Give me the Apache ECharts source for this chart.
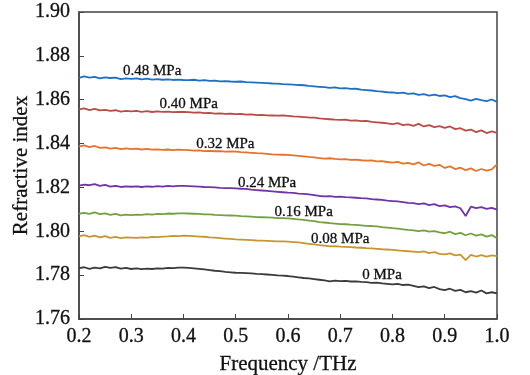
<!DOCTYPE html>
<html>
<head>
<meta charset="utf-8">
<script src="https://cdn.jsdelivr.net/npm/echarts@6/dist/echarts.min.js"></script>
<style>
  html, body { margin: 0; padding: 0; background: #fff; }
  #chart { width: 530px; height: 375px; }
</style>
</head>
<body>
<div id="chart"></div>
<script>
// frequency grid, 0.20 .. 1.00 THz in 0.01 steps
const freq = [];
for (let i = 0; i <= 80; i++) freq.push(+(0.2 + i * 0.01).toFixed(2));

const pressures = ['0.48 MPa', '0.40 MPa', '0.32 MPa', '0.24 MPa', '0.16 MPa', '0.08 MPa', '0 MPa'];

const n048 = [
  1.8700, 1.8706, 1.8701, 1.8704, 1.8697, 1.8702, 1.8699, 1.8701, 1.8694, 1.8697,
  1.8695, 1.8697, 1.8693, 1.8696, 1.8692, 1.8694, 1.8691, 1.8693, 1.8690, 1.8692,
  1.8690, 1.8689, 1.8691, 1.8687, 1.8689, 1.8686, 1.8687, 1.8684, 1.8685, 1.8683,
  1.8682, 1.8683, 1.8680, 1.8679, 1.8678, 1.8677, 1.8676, 1.8674, 1.8673, 1.8671,
  1.8670, 1.8669, 1.8667, 1.8666, 1.8663, 1.8661, 1.8659, 1.8657, 1.8654, 1.8656,
  1.8652, 1.8653, 1.8649, 1.8650, 1.8646, 1.8644, 1.8642, 1.8639, 1.8637, 1.8634,
  1.8633, 1.8630, 1.8632, 1.8627, 1.8629, 1.8622, 1.8626, 1.8619, 1.8623, 1.8617,
  1.8620, 1.8612, 1.8616, 1.8607, 1.8603, 1.8596, 1.8604, 1.8598, 1.8594, 1.8601,
  1.8590
];
const n040 = [
  1.8556, 1.8560, 1.8553, 1.8558, 1.8551, 1.8554, 1.8549, 1.8552, 1.8546, 1.8549,
  1.8547, 1.8549, 1.8545, 1.8548, 1.8544, 1.8547, 1.8545, 1.8546, 1.8543, 1.8545,
  1.8544, 1.8543, 1.8541, 1.8542, 1.8539, 1.8540, 1.8537, 1.8538, 1.8535, 1.8536,
  1.8534, 1.8535, 1.8532, 1.8533, 1.8530, 1.8531, 1.8529, 1.8528, 1.8527, 1.8528,
  1.8526, 1.8524, 1.8523, 1.8521, 1.8519, 1.8518, 1.8515, 1.8513, 1.8511, 1.8509,
  1.8508, 1.8509, 1.8505, 1.8506, 1.8502, 1.8503, 1.8499, 1.8497, 1.8495, 1.8492,
  1.8489, 1.8493, 1.8484, 1.8488, 1.8481, 1.8490, 1.8478, 1.8484, 1.8475, 1.8480,
  1.8472, 1.8478, 1.8466, 1.8470, 1.8459, 1.8464, 1.8452, 1.8460, 1.8448, 1.8456,
  1.8449
];
const n032 = [
  1.8387, 1.8392, 1.8384, 1.8389, 1.8380, 1.8383, 1.8377, 1.8380, 1.8375, 1.8378,
  1.8375, 1.8377, 1.8373, 1.8376, 1.8372, 1.8374, 1.8371, 1.8373, 1.8370, 1.8372,
  1.8371, 1.8370, 1.8368, 1.8369, 1.8366, 1.8367, 1.8365, 1.8366, 1.8363, 1.8364,
  1.8363, 1.8361, 1.8360, 1.8358, 1.8356, 1.8355, 1.8353, 1.8351, 1.8350, 1.8349,
  1.8348, 1.8346, 1.8344, 1.8342, 1.8339, 1.8337, 1.8334, 1.8331, 1.8333, 1.8330,
  1.8328, 1.8329, 1.8326, 1.8327, 1.8324, 1.8322, 1.8323, 1.8319, 1.8320, 1.8316,
  1.8313, 1.8317, 1.8309, 1.8312, 1.8305, 1.8314, 1.8300, 1.8307, 1.8298, 1.8303,
  1.8289, 1.8296, 1.8284, 1.8290, 1.8279, 1.8287, 1.8275, 1.8284, 1.8277, 1.8282,
  1.8305
];
const n024 = [
  1.8208, 1.8213, 1.8210, 1.8215, 1.8207, 1.8212, 1.8204, 1.8207, 1.8202, 1.8205,
  1.8203, 1.8205, 1.8202, 1.8205, 1.8203, 1.8206, 1.8204, 1.8207, 1.8205, 1.8207,
  1.8207, 1.8206, 1.8205, 1.8204, 1.8202, 1.8201, 1.8200, 1.8198, 1.8197, 1.8197,
  1.8196, 1.8194, 1.8193, 1.8190, 1.8188, 1.8186, 1.8184, 1.8182, 1.8180, 1.8178,
  1.8176, 1.8175, 1.8172, 1.8171, 1.8168, 1.8165, 1.8161, 1.8159, 1.8160, 1.8157,
  1.8158, 1.8156, 1.8155, 1.8153, 1.8151, 1.8150, 1.8147, 1.8145, 1.8143, 1.8140,
  1.8138, 1.8136, 1.8133, 1.8130, 1.8128, 1.8124, 1.8127, 1.8119, 1.8124, 1.8115,
  1.8118, 1.8110, 1.8114, 1.8105, 1.8070, 1.8112, 1.8106, 1.8110, 1.8102, 1.8107,
  1.8099
];
const n016 = [
  1.8080, 1.8084, 1.8079, 1.8086, 1.8078, 1.8082, 1.8075, 1.8079, 1.8073, 1.8076,
  1.8074, 1.8076, 1.8075, 1.8078, 1.8076, 1.8079, 1.8078, 1.8081, 1.8080, 1.8082,
  1.8082, 1.8081, 1.8080, 1.8079, 1.8077, 1.8077, 1.8075, 1.8074, 1.8073, 1.8072,
  1.8071, 1.8069, 1.8068, 1.8067, 1.8065, 1.8064, 1.8063, 1.8062, 1.8060, 1.8060,
  1.8059, 1.8057, 1.8054, 1.8052, 1.8049, 1.8046, 1.8042, 1.8040, 1.8037, 1.8035,
  1.8033, 1.8032, 1.8030, 1.8029, 1.8027, 1.8025, 1.8024, 1.8022, 1.8019, 1.8017,
  1.8014, 1.8012, 1.8009, 1.8006, 1.8004, 1.8001, 1.8004, 1.7998, 1.8001, 1.7995,
  1.7991, 1.7998, 1.7987, 1.7993, 1.7982, 1.7990, 1.7980, 1.7986, 1.7976, 1.7983,
  1.7968
];
const n008 = [
  1.7977, 1.7982, 1.7975, 1.7980, 1.7972, 1.7978, 1.7970, 1.7974, 1.7969, 1.7972,
  1.7971, 1.7970, 1.7972, 1.7971, 1.7974, 1.7973, 1.7976, 1.7977, 1.7979, 1.7978,
  1.7980, 1.7979, 1.7978, 1.7976, 1.7975, 1.7972, 1.7971, 1.7969, 1.7967, 1.7965,
  1.7963, 1.7962, 1.7961, 1.7960, 1.7958, 1.7957, 1.7956, 1.7955, 1.7954, 1.7954,
  1.7953, 1.7951, 1.7949, 1.7946, 1.7943, 1.7940, 1.7937, 1.7935, 1.7931, 1.7932,
  1.7930, 1.7929, 1.7928, 1.7926, 1.7925, 1.7923, 1.7922, 1.7920, 1.7918, 1.7917,
  1.7915, 1.7913, 1.7911, 1.7909, 1.7907, 1.7905, 1.7908, 1.7900, 1.7905, 1.7897,
  1.7895, 1.7899, 1.7890, 1.7894, 1.7868, 1.7892, 1.7885, 1.7891, 1.7884, 1.7890,
  1.7887
];
const n000 = [
  1.7832, 1.7836, 1.7829, 1.7834, 1.7831, 1.7838, 1.7833, 1.7837, 1.7830, 1.7833,
  1.7828, 1.7831, 1.7827, 1.7830, 1.7828, 1.7831, 1.7830, 1.7833, 1.7832, 1.7834,
  1.7834, 1.7833, 1.7831, 1.7829, 1.7826, 1.7823, 1.7820, 1.7818, 1.7815, 1.7813,
  1.7811, 1.7810, 1.7809, 1.7808, 1.7806, 1.7805, 1.7803, 1.7801, 1.7799, 1.7798,
  1.7796, 1.7793, 1.7790, 1.7787, 1.7785, 1.7782, 1.7779, 1.7776, 1.7772, 1.7775,
  1.7773, 1.7774, 1.7771, 1.7772, 1.7769, 1.7768, 1.7765, 1.7766, 1.7762, 1.7760,
  1.7758, 1.7760, 1.7755, 1.7757, 1.7751, 1.7745, 1.7749, 1.7741, 1.7746, 1.7736,
  1.7732, 1.7738, 1.7728, 1.7733, 1.7722, 1.7727, 1.7720, 1.7730, 1.7717, 1.7722,
  1.7717
];

const xTicks = [0.2, 0.3, 0.4, 0.5, 0.6, 0.7, 0.8, 0.9, 1.0];
const yTicks = [1.76, 1.78, 1.80, 1.82, 1.84, 1.86, 1.88, 1.90];

const allSeries = [n048, n040, n032, n024, n016, n008, n000];
const colors = ['#1f6fc2', '#b84c46', '#e6722b', '#7034a6', '#74a043', '#c99532', '#3a3a3a'];
// frequency where each curve's label sits
const labelAt = [0.34, 0.41, 0.485, 0.56, 0.63, 0.70, 0.78];

const FONT = 'Liberation Serif';
const chart = echarts.init(document.getElementById('chart'), null, { renderer: 'canvas' });

const series = allSeries.map((vals, i) => {
  const idx = Math.round((labelAt[i] - 0.2) / 0.01);
  return {
    name: pressures[i],
    type: 'line',
    showSymbol: false,
    symbol: 'none',
    animation: false,
    data: freq.map((f, k) => [f, vals[k]]),
    lineStyle: { color: colors[i], width: 1.8 },
    itemStyle: { color: colors[i] },
    markPoint: {
      symbol: 'circle',
      symbolSize: 1,
      itemStyle: { color: 'rgba(0,0,0,0)' },
      label: {
        show: true,
        position: 'inside',
        offset: [0, -8],
        formatter: pressures[i],
        color: '#111',
        fontFamily: FONT,
        fontSize: 15,
        textBorderColor: '#111',
        textBorderWidth: 0.3
      },
      data: [{ coord: [freq[idx], vals[idx]] }]
    }
  };
});

const axisText = { color: '#111', fontFamily: FONT, fontSize: 20, textBorderColor: '#111', textBorderWidth: 0.3 };
const nameText = { color: '#111', fontFamily: FONT, fontSize: 21, textBorderColor: '#111', textBorderWidth: 0.3 };

chart.setOption({
  animation: false,
  grid: {
    left: 79, right: 33, top: 12, bottom: 56,
    outerBoundsMode: 'none',
    show: true, borderColor: '#444', borderWidth: 1.5
  },
  xAxis: {
    type: 'value',
    min: 0.2, max: 1.0, interval: 0.1,
    name: 'Frequency /THz',
    nameLocation: 'middle',
    nameGap: 35,
    nameTextStyle: nameText,
    axisLine: { show: true, lineStyle: { color: '#444', width: 1.5 } },
    axisTick: { show: true, inside: true, length: 5, lineStyle: { color: '#444' } },
    axisLabel: Object.assign({ margin: 8, formatter: v => xTicks.some(t => Math.abs(t - v) < 1e-6) ? v.toFixed(1) : '' }, axisText),
    splitLine: { show: false }
  },
  yAxis: {
    type: 'value',
    min: 1.76, max: 1.90, interval: 0.02,
    name: 'Refractive index',
    nameLocation: 'middle',
    nameGap: 47,
    nameMoveOverlap: false,
    nameTextStyle: nameText,
    axisLine: { show: true, lineStyle: { color: '#444', width: 1.5 } },
    axisTick: { show: true, inside: true, length: 5, lineStyle: { color: '#444' } },
    axisLabel: Object.assign({ margin: 9, formatter: v => yTicks.some(t => Math.abs(t - v) < 1e-6) ? v.toFixed(2) : '' }, axisText),
    splitLine: { show: false }
  },
  series: series
});
</script>
</body>
</html>
